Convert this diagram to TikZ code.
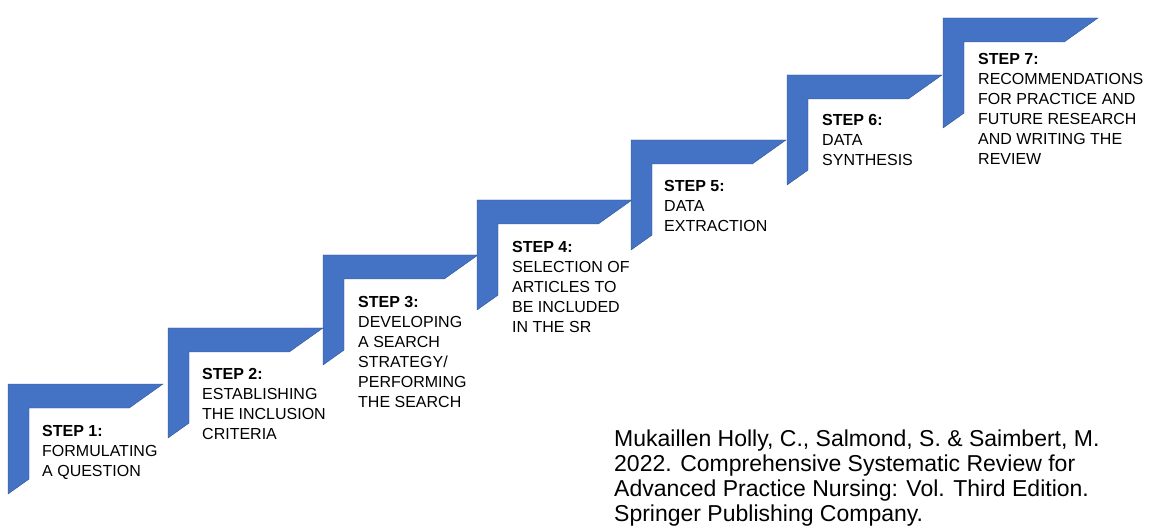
\documentclass[tikz,border=0pt]{standalone}
\usepackage{fontspec}
\setmainfont{Liberation Sans}
\definecolor{stepblue}{HTML}{4472C4}
\definecolor{stepedge}{HTML}{2F528F}
\tikzset{
  halfframe/.pic={
    \fill[stepblue, draw=stepedge, line width=0.4pt]
      (0,0) -- (155,0) -- (121.2,24) -- (21,24) -- (21,95.1) -- (0,110) -- cycle;
  },
  steptext/.style={anchor=base west, inner sep=0pt, align=left, text=black,
    font=\fontsize{16}{20}\selectfont},
  citetext/.style={anchor=base west, inner sep=0pt, align=left, text=black,
    font=\fontsize{23}{25.3}\selectfont}
}
\begin{document}
\begin{tikzpicture}[x=1pt,y=-1pt]
\useasboundingbox (0,0) rectangle (1149,529);
\pic at (8,384) {halfframe};
\pic at (168,328) {halfframe};
\pic at (323,255) {halfframe};
\pic at (477,200) {halfframe};
\pic at (631,140) {halfframe};
\pic at (787,75) {halfframe};
\pic at (943,18) {halfframe};

% anchors are at the baseline of the last line of each text
\node[steptext] (s1) at (42,476) {\textbf{STEP 1:}\\FORMULATING\\A QUESTION};
\node[steptext] (s2) at (202,439) {\textbf{STEP 2:}\\ESTABLISHING\\THE INCLUSION\\CRITERIA};
\node[steptext] (s3) at (358,407) {\textbf{STEP 3:}\\DEVELOPING\\A SEARCH\\STRATEGY/\\PERFORMING\\THE SEARCH};
\node[steptext] (s4) at (512,333) {\textbf{STEP 4:}\\SELECTION OF\\ARTICLES TO\\BE INCLUDED\\IN THE SR};
\node[steptext] (s5) at (664,232) {\textbf{STEP 5:}\\DATA\\EXTRACTION};
\node[steptext] (s6) at (822,166) {\textbf{STEP 6:}\\DATA\\SYNTHESIS};
\node[steptext] (s7) at (978,165) {\textbf{STEP 7:}\\RECOMMENDATIONS\\FOR PRACTICE AND\\FUTURE RESEARCH\\AND WRITING THE\\REVIEW};

\node[citetext] (cite) at (614,521.9) {Mukaillen Holly, C., Salmond, S. \& Saimbert, M.\\2022. Comprehensive Systematic Review for\\Advanced Practice Nursing: Vol. Third Edition.\\Springer Publishing Company.};
\end{tikzpicture}
\end{document}
